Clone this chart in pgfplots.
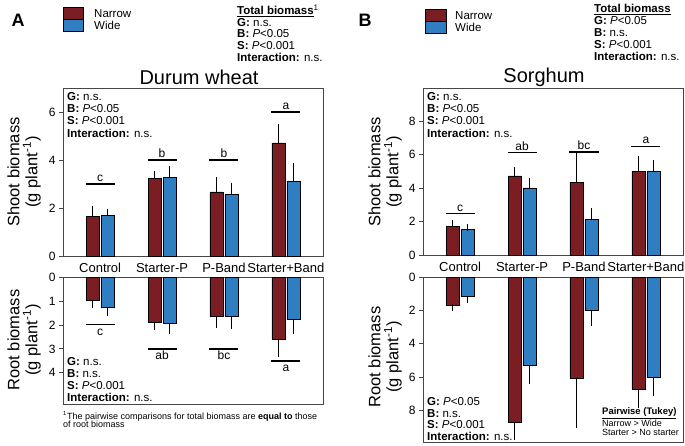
\documentclass[border=0pt]{standalone}
\usepackage{pgfplots}
\pgfplotsset{compat=1.18}
\usepackage{fontspec}
\setmainfont{Liberation Sans}
\definecolor{narrow}{RGB}{122,30,36}
\definecolor{wide}{RGB}{46,126,193}
\definecolor{axc}{RGB}{70,70,70}
\pgfplotsset{
 bio/.style={
  scale only axis, width=260pt, xmin=-0.6, xmax=3.6,
  axis line style={axc, line width=0.8pt},
  ytick style={axc, line width=0.8pt},
  ytick pos=left, tick align=outside, major tick length=4pt,
  /pgf/number format/assume math mode=true,
  yticklabel style={font=\fontsize{12}{12}\selectfont},
  clip=false,
 },
 nbar/.style={ybar, bar width=13pt, bar shift=0pt, fill=narrow, draw=black, line width=0.6pt,
   error bars/.cd, y dir=plus, y explicit, error bar style={black, line width=0.8pt},
   error mark options={black, line width=0.8pt, mark size=3.5pt}},
 wbar/.style={ybar, bar width=13pt, bar shift=0pt, fill=wide, draw=black, line width=0.6pt,
   error bars/.cd, y dir=plus, y explicit, error bar style={black, line width=0.8pt},
   error mark options={black, line width=0.8pt, mark size=3.5pt}},
 sig/.style={black, line width=1.3pt, forget plot},
}
\newcommand{\stat}[3]{\node[anchor=west, inner sep=0pt, font=\fontsize{11.5}{12}\selectfont] at (#1pt,#2pt) {#3};}
\begin{document}
\begin{tikzpicture}
\useasboundingbox (0,0) rectangle (685pt,445pt);
% ---------- Panel A shoot ----------
\begin{axis}[bio, at={(63pt,189pt)}, anchor=south west, height=168pt, ymin=0, ymax=7,
  ytick={0,2,4,6}, xtick={0,1,2,3},
  xticklabels={Control,Starter-P,P-Band,Starter+Band},
  xtick style={draw=none},
  xticklabel style={font=\fontsize{13}{13}\selectfont}]
\addplot[nbar] coordinates {(-0.121,1.66) +- (0,0.28) (0.879,3.24) +- (0,0.17) (1.879,2.67) +- (0,0.47) (2.879,4.71) +- (0,0.66)};
\addplot[wbar] coordinates {(0.121,1.69) +- (0,0.14) (1.121,3.28) +- (0,0.32) (2.121,2.56) +- (0,0.35) (3.121,3.12) +- (0,0.62)};
\addplot[sig] coordinates {(-0.235,3.0) (0.235,3.0)};
\addplot[sig] coordinates {(0.765,4.0) (1.235,4.0)};
\addplot[sig] coordinates {(1.765,4.0) (2.235,4.0)};
\addplot[sig] coordinates {(2.765,6.0) (3.235,6.0)};
\node[anchor=base, yshift=2.5pt, font=\fontsize{12}{12}\selectfont] at (axis cs:0,3.0) {c};
\node[anchor=base, yshift=2.5pt, font=\fontsize{12}{12}\selectfont] at (axis cs:1,4.0) {b};
\node[anchor=base, yshift=2.5pt, font=\fontsize{12}{12}\selectfont] at (axis cs:2,4.0) {b};
\node[anchor=base, yshift=2.5pt, font=\fontsize{12}{12}\selectfont] at (axis cs:3,6.0) {a};
\end{axis}
% ---------- Panel A root ----------
\begin{axis}[bio, at={(63pt,41pt)}, anchor=south west, height=127pt, ymin=0, ymax=5.3,
  y dir=reverse, ytick={0,1,2,3,4}, xtick=\empty]
\addplot[nbar] coordinates {(-0.121,0.97) +- (0,0.18) (0.879,1.87) +- (0,0.18) (1.879,1.66) +- (0,0.34) (2.879,2.60) +- (0,0.61)};
\addplot[wbar] coordinates {(0.121,1.27) +- (0,0.22) (1.121,1.92) +- (0,0.31) (2.121,1.66) +- (0,0.37) (3.121,1.78) +- (0,0.46)};
\addplot[sig] coordinates {(-0.235,1.98) (0.235,1.98)};
\addplot[sig] coordinates {(0.765,3.0) (1.235,3.0)};
\addplot[sig] coordinates {(1.765,3.0) (2.235,3.0)};
\addplot[sig] coordinates {(2.765,3.5) (3.235,3.5)};
\node[anchor=base, yshift=-10.7pt, font=\fontsize{12}{12}\selectfont] at (axis cs:0,1.98) {c};
\node[anchor=base, yshift=-10.7pt, font=\fontsize{12}{12}\selectfont] at (axis cs:1,3.0) {ab};
\node[anchor=base, yshift=-10.7pt, font=\fontsize{12}{12}\selectfont] at (axis cs:2,3.0) {bc};
\node[anchor=base, yshift=-10.7pt, font=\fontsize{12}{12}\selectfont] at (axis cs:3,3.5) {a};
\end{axis}
% ---------- Panel B shoot ----------
\begin{axis}[bio, at={(423pt,190pt)}, anchor=south west, height=167pt, ymin=0, ymax=10,
  ytick={0,2,4,6,8}, xtick={0,1,2,3},
  xticklabels={Control,Starter-P,P-Band,Starter+Band},
  xtick style={draw=none},
  xticklabel style={font=\fontsize{13}{13}\selectfont}]
\addplot[nbar] coordinates {(-0.121,1.73) +- (0,0.18) (0.879,4.74) +- (0,0.32) (1.879,4.34) +- (0,1.58) (2.879,5.02) +- (0,0.70)};
\addplot[wbar] coordinates {(0.121,1.51) +- (0,0.16) (1.121,4.02) +- (0,0.38) (2.121,2.11) +- (0,0.50) (3.121,5.02) +- (0,0.46)};
\addplot[sig] coordinates {(-0.235,2.47) (0.235,2.47)};
\addplot[sig] coordinates {(0.765,6.12) (1.235,6.12)};
\addplot[sig] coordinates {(1.765,6.16) (2.235,6.16)};
\addplot[sig] coordinates {(2.765,6.5) (3.235,6.5)};
\node[anchor=base, yshift=2.5pt, font=\fontsize{12}{12}\selectfont] at (axis cs:0,2.47) {c};
\node[anchor=base, yshift=2.5pt, font=\fontsize{12}{12}\selectfont] at (axis cs:1,6.12) {ab};
\node[anchor=base, yshift=2.5pt, font=\fontsize{12}{12}\selectfont] at (axis cs:2,6.16) {bc};
\node[anchor=base, yshift=2.5pt, font=\fontsize{12}{12}\selectfont] at (axis cs:3,6.5) {a};
\end{axis}
% ---------- Panel B root ----------
\begin{axis}[bio, at={(423pt,3pt)}, anchor=south west, height=165pt, ymin=0, ymax=9.9,
  y dir=reverse, ytick={0,2,4,6,8}, xtick=\empty]
\addplot[nbar] coordinates {(-0.121,1.70) +- (0,0.14) (0.879,8.72) +- (0,0.86) (1.879,6.05) +- (0,2.77) (2.879,6.73) +- (0,0.89)};
\addplot[wbar] coordinates {(0.121,1.14) +- (0,0.18) (1.121,5.29) +- (0,0.92) (2.121,2.00) +- (0,0.73) (3.121,6.03) +- (0,0.88)};
\end{axis}
% ---------- y labels ----------
\node[rotate=90, align=center, font=\fontsize{16.5}{18}\selectfont] at (24pt,273pt) {Shoot biomass\\(g plant\textsuperscript{-1})};
\node[rotate=90, align=center, font=\fontsize{16.5}{18}\selectfont] at (24pt,105pt) {Root biomass\\(g plant\textsuperscript{-1})};
\node[rotate=90, align=center, font=\fontsize{16.5}{18}\selectfont] at (385pt,273pt) {Shoot biomass\\(g plant\textsuperscript{-1})};
\node[rotate=90, align=center, font=\fontsize{16.5}{18}\selectfont] at (385pt,88pt) {Root biomass\\(g plant\textsuperscript{-1})};
% ---------- titles ----------
\node[font=\fontsize{20}{20}\selectfont] at (199pt,368pt) {Durum wheat};
\node[font=\fontsize{20}{20}\selectfont] at (544pt,368pt) {Sorghum};
\node[font=\bfseries\fontsize{18}{18}\selectfont] at (18pt,425pt) {A};
\node[font=\bfseries\fontsize{18}{18}\selectfont] at (365pt,425pt) {B};
% ---------- legends ----------
\draw[fill=narrow, line width=0.6pt] (63pt,426pt) rectangle (83pt,438pt);
\draw[fill=wide, line width=0.6pt] (63pt,414pt) rectangle (83pt,426pt);
\node[anchor=west, inner sep=0pt, font=\fontsize{11.5}{12}\selectfont] at (94pt,431pt) {Narrow};
\node[anchor=west, inner sep=0pt, font=\fontsize{11.5}{12}\selectfont] at (94pt,420pt) {Wide};
\draw[fill=narrow, line width=0.6pt] (425pt,424pt) rectangle (446pt,436pt);
\draw[fill=wide, line width=0.6pt] (425pt,412pt) rectangle (446pt,424pt);
\node[anchor=west, inner sep=0pt, font=\fontsize{11.5}{12}\selectfont] at (455pt,429pt) {Narrow};
\node[anchor=west, inner sep=0pt, font=\fontsize{11.5}{12}\selectfont] at (455pt,418pt) {Wide};
% ---------- total biomass ----------
\stat{237}{434.5}{\underline{\textbf{Total biomass}}\textsuperscript{1}}
\stat{237}{422.5}{\textbf{G:} n.s.}
\stat{237}{411}{\textbf{B:} \textit{P}<0.05}
\stat{237}{399.5}{\textbf{S:} \textit{P}<0.001}
\stat{237}{387.5}{\textbf{Interaction:} n.s.}
\stat{594}{435.5}{\underline{\textbf{Total biomass}}}
\stat{594}{424}{\textbf{G:} \textit{P}<0.05}
\stat{594}{412.5}{\textbf{B:} n.s.}
\stat{594}{400.5}{\textbf{S:} \textit{P}<0.001}
\stat{594}{388.5}{\textbf{Interaction:} n.s.}
% ---------- in-axis stats ----------
\stat{67}{348}{\textbf{G:} n.s.}
\stat{67}{336}{\textbf{B:} \textit{P}<0.05}
\stat{67}{324}{\textbf{S:} \textit{P}<0.001}
\stat{67}{312}{\textbf{Interaction:} n.s.}
\stat{427}{348}{\textbf{G:} n.s.}
\stat{427}{336}{\textbf{B:} \textit{P}<0.05}
\stat{427}{324}{\textbf{S:} \textit{P}<0.001}
\stat{427}{312}{\textbf{Interaction:} n.s.}
\stat{67}{83}{\textbf{G:} n.s.}
\stat{67}{71}{\textbf{B:} n.s.}
\stat{67}{59}{\textbf{S:} \textit{P}<0.001}
\stat{67}{48}{\textbf{Interaction:} n.s.}
\stat{427}{43}{\textbf{G:} \textit{P}<0.05}
\stat{427}{31.5}{\textbf{B:} n.s.}
\stat{427}{20}{\textbf{S:} \textit{P}<0.001}
\stat{427}{8.5}{\textbf{Interaction:} n.s.}
% ---------- pairwise ----------
\node[anchor=west, inner sep=0pt, font=\fontsize{9.5}{9.5}\selectfont] at (602pt,31.7pt) {\underline{\textbf{Pairwise (Tukey)}}};
\node[anchor=west, inner sep=0pt, font=\fontsize{9}{9}\selectfont] at (602pt,21.7pt) {Narrow > Wide};
\node[anchor=west, inner sep=0pt, font=\fontsize{9}{9}\selectfont] at (602pt,12.3pt) {Starter > No starter};
% ---------- footnote ----------
\node[anchor=west, inner sep=0pt, font=\fontsize{9}{9}\selectfont] at (63pt,29pt) {\textsuperscript{1}The pairwise comparisons for total biomass are \textbf{equal to} those};
\node[anchor=west, inner sep=0pt, font=\fontsize{9}{9}\selectfont] at (63pt,20.7pt) {of root biomass};
\end{tikzpicture}
\end{document}
